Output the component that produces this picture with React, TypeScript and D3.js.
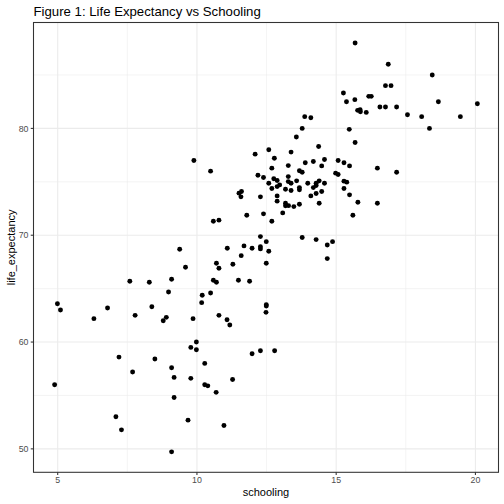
import React from "react";
import * as d3 from "d3";

const schooling: number[] = [
  9.38, 9.59, 7.59, 8.29, 9.09, 8.98, 4.99, 5.1, 6.3, 6.79, 7.78, 8.38, 8.9, 8.79, 9.86, 9.78, 7.2, 8.49, 9.09, 7.69, 9.18, 9.78, 4.89, 9.18, 7.09, 9.68, 7.29, 9.09,
  10.17, 12.49, 12.49, 12.48, 10.79, 11.08, 11.18, 9.98, 9.98, 10.28, 11.98, 12.28, 12.79, 11.28, 10.28, 10.39, 10.69, 10.97,
  9.89, 10.49, 12.09, 12.58, 12.78, 13.38, 14.37, 14.58, 14.18, 13.89, 13.28, 14.48, 12.69, 15.07, 12.19, 12.39, 13.68, 13.78, 13.28, 12.76,
  12.88, 12.58, 12.97, 13.28, 13.38, 13.58, 13.98, 14.28, 14.39, 14.58, 12.69, 12.88, 13.18, 13.38, 13.68, 13.68, 14.18, 14.28, 14.48, 14.28,
  14.09, 14.98, 15.07, 11.51, 11.6, 11.58, 12.28, 12.88, 12.88, 13.18, 13.18, 13.29, 13.48, 13.68, 14.39, 11.79, 12.39, 13.08, 10.59, 10.79,
  12.69, 12.28, 12.49, 13.78, 14.28, 14.87, 14.68, 14.68, 11.09, 11.69, 11.98, 12.28, 12.28, 12.58, 11.59, 11.29, 10.7, 10.79, 12.49, 10.59,
  10.7, 11.49, 11.89, 10.19, 10.49,
  15.68, 15.28, 15.48, 16.48, 17.17, 15.28, 15.38, 15.28, 15.48, 15.78, 16.48, 15.6,
  15.68, 16.87, 18.45, 16.77, 16.97, 15.26, 15.37, 15.67, 16.17, 16.26, 15.77, 15.86, 15.87, 16.08, 16.57, 16.77, 17.17, 18.67, 20.07, 17.56,
  18.07, 19.46, 18.35, 15.47, 13.87, 14.09, 13.78, 13.57,
];

const lifeExpectancy: number[] = [
  68.69, 67.0, 65.69, 65.6, 65.88, 64.69, 63.59, 63.0, 62.19, 63.19, 62.5, 63.31, 62.31, 62.0, 62.19, 59.5, 58.59, 58.41, 57.59, 57.19, 56.69, 56.6, 56.0, 54.81, 53.0, 52.69, 51.78, 49.72,
  63.69, 63.5, 63.37, 62.78, 62.5, 62.09, 61.59, 60.0, 59.28, 58.0, 58.9, 59.19, 59.19, 56.5, 56.0, 55.9, 55.29, 52.19,
  76.99, 76.0, 77.59, 78.0, 77.2, 77.78, 78.3, 77.09, 76.9, 76.78, 76.52, 76.49, 76.28, 76.99, 75.62, 75.4, 76.03, 75.9, 75.49, 75.28,
  75.12, 74.87, 74.71, 75.02, 74.87, 75.09, 74.87, 74.87, 75.09, 74.87, 74.37, 74.55, 74.31, 74.18, 74.46, 74.25, 74.46, 74.65, 74.09, 73.9,
  73.68, 75.81, 75.68, 73.94, 74.09, 73.59, 73.59, 73.68, 73.19, 73.0, 72.75, 72.77, 72.68, 72.9, 73.0, 71.87, 72.0, 72.09, 71.31, 71.41,
  71.31, 69.87, 69.4, 69.78, 69.59, 69.4, 69.09, 67.81, 68.78, 69.0, 68.78, 68.93, 68.72, 68.5, 68.09, 67.28, 67.38, 66.91, 67.38, 65.78,
  65.6, 65.78, 65.69, 64.38, 64.59,
  78.68, 76.78, 76.49, 76.28, 75.9, 75.06, 74.97, 74.37, 73.78, 73.09, 73.0, 71.87,
  88.0, 86.0, 85.0, 84.0, 84.0, 83.32, 82.5, 82.69, 83.0, 83.0, 81.69, 81.75, 81.56, 81.5, 82.0, 82.0, 82.0, 82.5, 82.31, 81.28,
  81.1, 81.1, 80.0, 79.91, 81.1, 81.0, 80.0, 79.19,
];

const xMajorTicks: number[] = [5, 10, 15, 20];
const xMinorTicks: number[] = [7.5, 12.5, 17.5];
const yMajorTicks: number[] = [50, 60, 70, 80];
const yMinorTicks: number[] = [55, 65, 75, 85];

const titleText = "Figure 1: Life Expectancy vs Schooling";
const xTitle = "schooling";
const yTitle = "life_expectancy";

const W = 504;
const H = 504;
const panel = { left: 33.5, right: 498.5, top: 22.5, bottom: 472.3 };

function expand(ext: [number, number]): [number, number] {
  const r = ext[1] - ext[0];
  return [ext[0] - 0.05 * r, ext[1] + 0.05 * r];
}

export default function App() {
  const xDom = expand(d3.extent(schooling) as [number, number]);
  const yDom = expand(d3.extent(lifeExpectancy) as [number, number]);
  const x = d3.scaleLinear().domain(xDom).range([panel.left, panel.right]);
  const y = d3.scaleLinear().domain(yDom).range([panel.bottom, panel.top]);
  const font = "'Liberation Sans', Arial, Helvetica, sans-serif";
  const points = schooling.map((s, i) => ({ s, l: lifeExpectancy[i] }));

  return (
    <svg
      width={W}
      height={H}
      style={{ position: "absolute", left: 0, top: 0, background: "#fff" }}
      fontFamily={font}
    >
      <rect x={0} y={0} width={W} height={H} fill="#fff" />
      <g>
        {xMinorTicks.map((t) => (
          <line key={"xm" + t} x1={x(t)} x2={x(t)} y1={panel.top} y2={panel.bottom} stroke="#EBEBEB" strokeWidth={0.53} />
        ))}
        {yMinorTicks.map((t) => (
          <line key={"ym" + t} y1={y(t)} y2={y(t)} x1={panel.left} x2={panel.right} stroke="#EBEBEB" strokeWidth={0.53} />
        ))}
        {xMajorTicks.map((t) => (
          <line key={"xM" + t} x1={x(t)} x2={x(t)} y1={panel.top} y2={panel.bottom} stroke="#EBEBEB" strokeWidth={1.07} />
        ))}
        {yMajorTicks.map((t) => (
          <line key={"yM" + t} y1={y(t)} y2={y(t)} x1={panel.left} x2={panel.right} stroke="#EBEBEB" strokeWidth={1.07} />
        ))}
      </g>
      <g>
        {points.map((p, i) => (
          <circle key={i} cx={x(p.s)} cy={y(p.l)} r={2.45} fill="#000" />
        ))}
      </g>
      <rect
        x={panel.left}
        y={panel.top}
        width={panel.right - panel.left}
        height={panel.bottom - panel.top}
        fill="none"
        stroke="#333333"
        strokeWidth={1.07}
      />
      <g>
        {xMajorTicks.map((t) => (
          <g key={"xt" + t}>
            <line x1={x(t)} x2={x(t)} y1={panel.bottom} y2={panel.bottom + 2.75} stroke="#333333" strokeWidth={1.07} />
            <text x={x(t)} y={panel.bottom + 10.3} textAnchor="middle" fontSize={8.8} fill="#4D4D4D">
              {t}
            </text>
          </g>
        ))}
        {yMajorTicks.map((t) => (
          <g key={"yt" + t}>
            <line x1={panel.left - 2.75} x2={panel.left} y1={y(t)} y2={y(t)} stroke="#333333" strokeWidth={1.07} />
            <text x={panel.left - 5} y={y(t) + 3.1} textAnchor="end" fontSize={8.8} fill="#4D4D4D">
              {t}
            </text>
          </g>
        ))}
      </g>
      <text x={(panel.left + panel.right) / 2} y={496} textAnchor="middle" fontSize={11} fill="#000">
        {xTitle}
      </text>
      <text
        transform={`translate(15,${(panel.top + panel.bottom) / 2}) rotate(-90)`}
        textAnchor="middle"
        fontSize={11}
        fill="#000"
      >
        {yTitle}
      </text>
      <text x={panel.left} y={15.5} fontSize={13.2} fill="#000">
        {titleText}
      </text>
    </svg>
  );
}
